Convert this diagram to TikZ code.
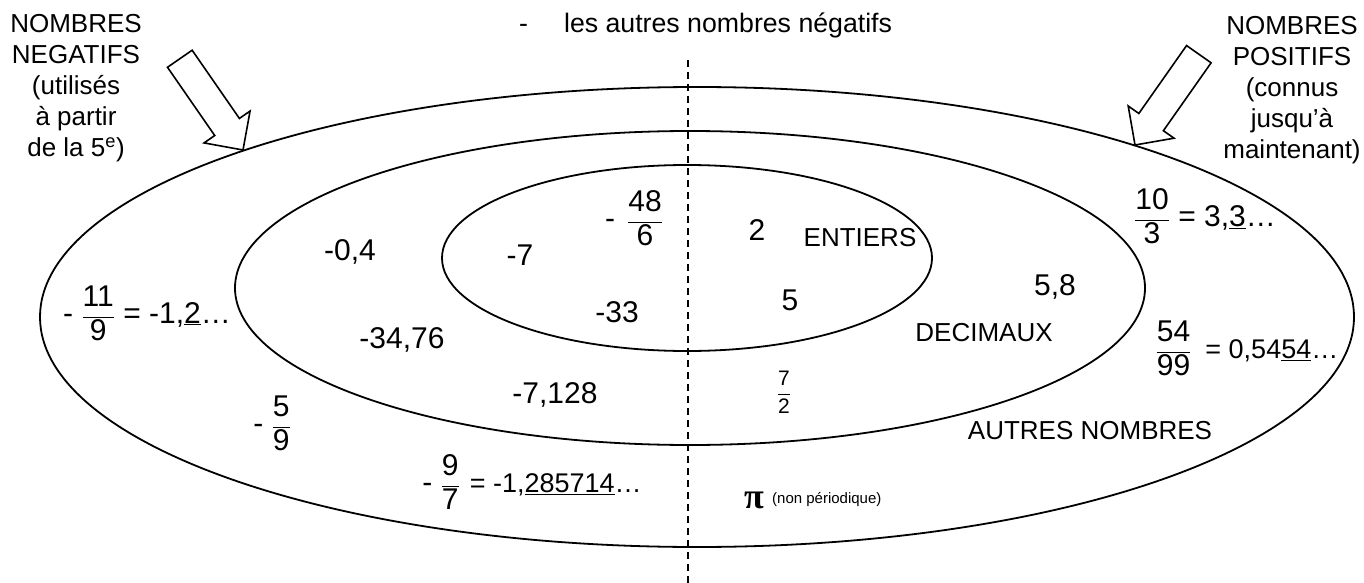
\documentclass[tikz,border=0pt]{standalone}
\usepackage{fontspec}
\setmainfont{Liberation Sans}
\newfontfamily\greekfont{Liberation Serif}
\usetikzlibrary{positioning}

% fraction in text font
\newcommand{\fr}[2]{$\displaystyle\frac{\hbox{#1}}{\hbox{#2}}$}

\tikzset{
    txt/.style={inner sep=0pt, font=\fontsize{26}{31}\selectfont},
    num/.style={inner sep=0pt, font=\fontsize{30}{36}\selectfont},
    smalltxt/.style={inner sep=0pt, font=\fontsize{15}{18}\selectfont},
    setline/.style={line width=1.8pt},
    bigarrow/.style={draw, line width=1.6pt, fill=white, line join=miter},
}

\begin{document}
\begin{tikzpicture}[x=1pt,y=-1pt]
    \useasboundingbox (0,0) rectangle (1364,583);

    % dividing line
    \coordinate (haut) at (688,60);
    \coordinate (bas) at (688,583);
    \draw[line width=1.5pt, dash pattern=on 7pt off 5pt] (haut) -- (bas);

    % the three sets
    \draw[setline] (697,317) ellipse [x radius=657pt, y radius=230pt];
    \draw[setline] (690,288) ellipse [x radius=455pt, y radius=157pt];
    \draw[setline] (687,258) ellipse [x radius=245pt, y radius=93pt];

    % hollow arrows
    \draw[bigarrow, shift={(243,150)}, rotate=-55.3]
        (0,0) -- (-28,28) -- (-28,15) -- (-111,15) -- (-111,-15) -- (-28,-15) -- (-28,-28) -- cycle;
    \draw[bigarrow, shift={(1135,145)}, rotate=-125.1]
        (0,0) -- (-28,28) -- (-28,15) -- (-111,15) -- (-111,-15) -- (-28,-15) -- (-28,-28) -- cycle;

    \node[txt, anchor=north, align=center] (neg) at (76,14)
        {NOMBRES\\NEGATIFS\\(utilisés\\à partir\\de la 5\textsuperscript{e})};
    \node[txt, anchor=north, align=center] (pos) at (1292,16)
        {NOMBRES\\POSITIFS\\(connus\\jusqu’à\\maintenant)};
    \node[txt, font=\fontsize{26.7}{31}\selectfont, anchor=west] (titre) at (519,25)
        {-\hspace{36pt}les autres nombres négatifs};

    % entiers
    \node[num] (n7) at (520,255) {-7};
    \node[num] (n48) at (634,218) {-\hspace{12pt}\fr{48}{6}};
    \node[num] (n33) at (617,312) {-33};
    \node[num] (n2) at (757,230) {2};
    \node[num] (n5) at (790,300) {5};
    \node[txt] (ent) at (860,238) {ENTIERS};

    % decimaux
    \node[num] (d04) at (350,252) {-0,4};
    \node[num] (d3476) at (402,340) {-34,76};
    \node[num] (d7128) at (555,395) {-7,128};
    \node[num, font=\fontsize{21}{25}\selectfont] (d72) at (784,392) {\fr{7}{2}};
    \node[num] (d58) at (1055,287) {5,8};
    \node[txt] (dec) at (984,333) {DECIMAUX};

    % autres nombres
    \node[num] (q119) at (147,313) {- \fr{11}{9} = -1,\underline{2}…};
    \node[num] (q59) at (272,423) {- \fr{5}{9}};
    \node[num] (q97) at (532,482)
        {- \fr{9}{7}\hspace{10pt}{\fontsize{27}{32}\selectfont = -1,\underline{285714}…}};
    \node[num] (q103) at (1205,216) {\fr{10}{3} = 3,\underline{3}…};
    \node[num] (q5499) at (1247,348)
        {\fr{54}{99}\hspace{14pt}{\fontsize{27}{32}\selectfont = 0,54\underline{54}…}};
    \node[txt] (aut) at (1090,431) {AUTRES NOMBRES};
    \node[num, font=\fontsize{36}{40}\selectfont\greekfont\bfseries] (pi) at (754,500) {π};
    \node[smalltxt, anchor=west] (nonper) at (772,500) {(non périodique)};
\end{tikzpicture}
\end{document}
